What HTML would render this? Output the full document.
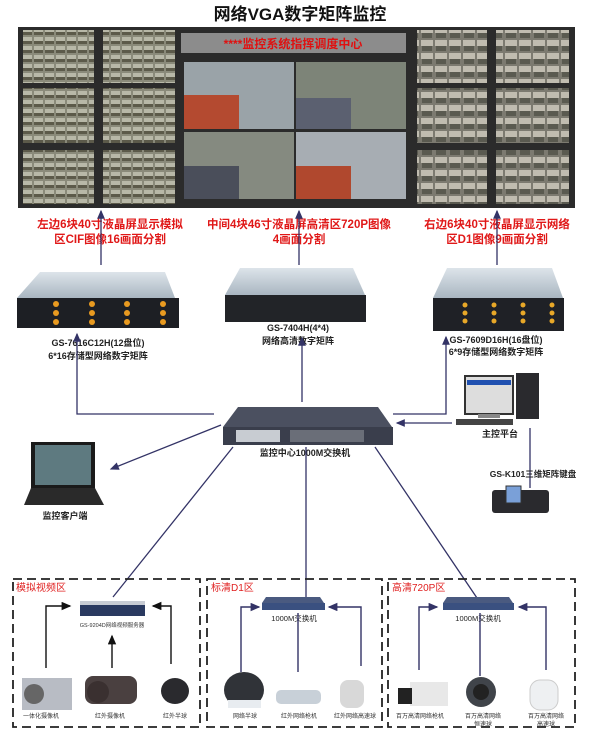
<!DOCTYPE html>
<html><head><meta charset="utf-8"><style>
html,body{margin:0;padding:0;background:#fff;}
svg{display:block;}
text{font-family:"Liberation Sans","Noto Sans CJK SC",sans-serif;}
</style></head><body>
<svg width="600" height="730" viewBox="0 0 600 730" xmlns="http://www.w3.org/2000/svg">
<defs>
<marker id="a" markerWidth="8" markerHeight="8" refX="6" refY="3" orient="auto"><path d="M0,0 L7,3 L0,6 z" fill="#333366"/></marker>
<marker id="k" markerWidth="8" markerHeight="8" refX="6" refY="3" orient="auto"><path d="M0,0 L7,3 L0,6 z" fill="#111"/></marker>
<pattern id="t16" width="11" height="9" patternUnits="userSpaceOnUse"><rect width="11" height="9" fill="#8a8a7a"/><rect x="1" y="1" width="9" height="4" fill="#b8b8a8"/><rect x="1" y="5" width="9" height="3" fill="#5c5a4a"/></pattern>
<pattern id="t9" width="14" height="13" patternUnits="userSpaceOnUse"><rect width="14" height="13" fill="#7c7a70"/><rect x="1" y="1" width="12" height="6" fill="#c0bcb0"/><rect x="2" y="7" width="10" height="5" fill="#5a5a50"/></pattern>
<linearGradient id="srv" x1="0" y1="0" x2="0" y2="1"><stop offset="0" stop-color="#dde4ea"/><stop offset="1" stop-color="#a9b6c1"/></linearGradient>
</defs>

<text x="300" y="20" font-size="17" font-weight="bold" text-anchor="middle" fill="#111">网络VGA数字矩阵监控</text>

<!-- video wall -->
<rect x="18" y="27" width="557" height="181" fill="#2b2b2b"/>
<g fill="url(#t16)">
<rect x="23" y="30" width="71" height="53"/><rect x="103" y="30" width="72" height="53"/>
<rect x="23" y="88" width="71" height="55"/><rect x="103" y="88" width="72" height="55"/>
<rect x="23" y="150" width="71" height="54"/><rect x="103" y="150" width="72" height="54"/>
</g>
<rect x="181" y="33" width="225" height="20" fill="#8c8c8c"/>
<text x="293" y="48" font-size="12" font-weight="bold" text-anchor="middle" fill="#e01010">****监控系统指挥调度中心</text>
<rect x="184" y="62" width="110" height="67" fill="#9aa3a8"/>
<rect x="184" y="95" width="55" height="34" fill="#b44a30"/>
<rect x="296" y="62" width="110" height="67" fill="#7d8478"/>
<rect x="296" y="98" width="55" height="31" fill="#5b6070"/>
<rect x="184" y="132" width="110" height="67" fill="#858a80"/>
<rect x="184" y="166" width="55" height="33" fill="#4a4e5a"/>
<rect x="296" y="132" width="110" height="67" fill="#a7adb3"/>
<rect x="296" y="166" width="55" height="33" fill="#b0482e"/>
<g fill="url(#t9)">
<rect x="417" y="30" width="70" height="53"/><rect x="496" y="30" width="73" height="53"/>
<rect x="417" y="88" width="70" height="55"/><rect x="496" y="88" width="73" height="55"/>
<rect x="417" y="150" width="70" height="54"/><rect x="496" y="150" width="73" height="54"/>
</g>

<!-- wall labels -->
<g font-size="11.5" font-weight="bold" fill="#e01818" text-anchor="middle">
<text x="110" y="228">左边6块40寸液晶屏显示模拟</text>
<text x="110" y="243">区CIF图像16画面分割</text>
<text x="299" y="228">中间4块46寸液晶屏高清区720P图像</text>
<text x="299" y="243">4画面分割</text>
<text x="497" y="228">右边6块40寸液晶屏显示网络</text>
<text x="497" y="243">区D1图像9画面分割</text>
</g>
<g stroke="#333366" stroke-width="1.3" fill="none">
<line x1="101" y1="265" x2="101" y2="211" marker-end="url(#a)"/>
<line x1="299" y1="265" x2="299" y2="211" marker-end="url(#a)"/>
<line x1="497" y1="265" x2="497" y2="211" marker-end="url(#a)"/>
</g>

<!-- servers -->
<polygon points="40,272 165,272 175,298 17,298" fill="url(#srv)"/>
<rect x="17" y="298" width="162" height="30" fill="#1d1f24"/>
<g fill="#e89a20"><circle cx="56" cy="304" r="3"/><circle cx="92" cy="304" r="3"/><circle cx="127" cy="304" r="3"/><circle cx="163" cy="304" r="3"/>
<circle cx="56" cy="313" r="3"/><circle cx="92" cy="313" r="3"/><circle cx="127" cy="313" r="3"/><circle cx="163" cy="313" r="3"/>
<circle cx="56" cy="322" r="3"/><circle cx="92" cy="322" r="3"/><circle cx="127" cy="322" r="3"/><circle cx="163" cy="322" r="3"/></g>
<polygon points="240,268 353,268 365,295 225,295" fill="url(#srv)"/>
<rect x="225" y="295" width="141" height="27" fill="#222428"/>
<polygon points="447,268 552,268 563,298 433,298" fill="url(#srv)"/>
<rect x="433" y="298" width="131" height="33" fill="#1f2126"/>
<g fill="#e8a828"><circle cx="465" cy="305" r="2.5"/><circle cx="494" cy="305" r="2.5"/><circle cx="523" cy="305" r="2.5"/><circle cx="552" cy="305" r="2.5"/>
<circle cx="465" cy="313" r="2.5"/><circle cx="494" cy="313" r="2.5"/><circle cx="523" cy="313" r="2.5"/><circle cx="552" cy="313" r="2.5"/>
<circle cx="465" cy="321" r="2.5"/><circle cx="494" cy="321" r="2.5"/><circle cx="523" cy="321" r="2.5"/><circle cx="552" cy="321" r="2.5"/></g>
<g font-size="9" font-weight="bold" fill="#222" text-anchor="middle">
<text x="98" y="346">GS-7616C12H(12盘位)</text>
<text x="98" y="359">6*16存储型网络数字矩阵</text>
<text x="298" y="331">GS-7404H(4*4)</text>
<text x="298" y="344">网络高清数字矩阵</text>
<text x="496" y="343">GS-7609D16H(16盘位)</text>
<text x="496" y="355">6*9存储型网络数字矩阵</text>
</g>

<!-- switch -->
<polygon points="238,407 378,407 392,427 223,427" fill="#4b5060"/>
<rect x="223" y="427" width="170" height="18" fill="#3a3e4c"/>
<rect x="236" y="430" width="44" height="12" fill="#c8ccd2"/>
<rect x="290" y="430" width="74" height="12" fill="#6a6e78"/>
<text x="305" y="456" font-size="9" font-weight="bold" fill="#222" text-anchor="middle">监控中心1000M交换机</text>

<g stroke="#333366" stroke-width="1.3" fill="none">
<polyline points="214,414 77,414 77,334" marker-end="url(#a)"/>
<line x1="302" y1="402" x2="302" y2="338" marker-end="url(#a)"/>
<polyline points="393,414 446,414 446,337" marker-end="url(#a)"/>
<line x1="452" y1="423" x2="397" y2="423" marker-end="url(#a)"/>
<line x1="221" y1="425" x2="111" y2="469" marker-end="url(#a)"/>
<line x1="530" y1="428" x2="530" y2="488"/>
<line x1="233" y1="447" x2="113" y2="597"/>
<line x1="306" y1="447" x2="306" y2="600"/>
<line x1="375" y1="447" x2="477" y2="598"/>
</g>

<!-- main control PC -->
<rect x="465" y="376" width="48" height="38" fill="#ddd" stroke="#333" stroke-width="2"/>
<rect x="467" y="380" width="44" height="5" fill="#2050b0"/>
<rect x="478" y="414" width="22" height="4" fill="#888"/>
<rect x="516" y="373" width="23" height="46" fill="#2a2a2e"/>
<rect x="456" y="419" width="57" height="6" fill="#444"/>
<text x="500" y="437" font-size="9" font-weight="bold" fill="#222" text-anchor="middle">主控平台</text>
<text x="533" y="477" font-size="8.5" font-weight="bold" fill="#222" text-anchor="middle">GS-K101三维矩阵键盘</text>
<rect x="492" y="490" width="57" height="23" rx="3" fill="#2a2a2e"/>
<rect x="506" y="486" width="15" height="17" fill="#7aa0d8" stroke="#333"/>

<!-- laptop -->
<rect x="31" y="442" width="64" height="46" fill="#1a1a1a"/>
<rect x="35" y="445" width="56" height="40" fill="#5e7a80"/>
<polygon points="31,488 95,488 104,505 24,505" fill="#2a2a2a"/>
<text x="65" y="519" font-size="9" font-weight="bold" fill="#222" text-anchor="middle">监控客户端</text>

<!-- dashed zones -->
<g fill="none" stroke="#222" stroke-width="1.8" stroke-dasharray="9,5">
<rect x="13" y="579" width="187" height="148"/>
<rect x="207" y="579" width="175" height="148"/>
<rect x="388" y="579" width="187" height="148"/>
</g>
<g font-size="10" fill="#e02020">
<text x="16" y="591">模拟视频区</text>
<text x="211" y="591">标清D1区</text>
<text x="392" y="591">高清720P区</text>
</g>

<!-- zone 1 -->
<rect x="80" y="601" width="65" height="15" fill="#2a3a60"/>
<rect x="80" y="601" width="65" height="4" fill="#c8ccd4"/>
<text x="112" y="627" font-size="5.5" fill="#333" text-anchor="middle">GS-9204D网络视频服务器</text>
<g stroke="#111" stroke-width="1.4" fill="none">
<polyline points="46,668 46,606 70,606" marker-end="url(#k)"/>
<line x1="112" y1="668" x2="112" y2="636" marker-end="url(#k)"/>
<polyline points="171,664 171,606 153,606" marker-end="url(#k)"/>
</g>
<rect x="22" y="678" width="50" height="32" fill="#b8bcc4"/>
<circle cx="34" cy="694" r="10" fill="#666"/>
<rect x="85" y="676" width="52" height="28" rx="8" fill="#4a4040"/>
<circle cx="98" cy="692" r="11" fill="#3a3030"/>
<ellipse cx="175" cy="691" rx="14" ry="13" fill="#2a2a2e"/>
<g font-size="6" fill="#333" text-anchor="middle">
<text x="41" y="718">一体化摄像机</text><text x="110" y="718">红外摄像机</text><text x="175" y="718">红外半球</text>
</g>

<!-- zone 2 -->
<polygon points="266,597 320,597 324,603 262,603" fill="#4a5a80"/>
<rect x="262" y="603" width="63" height="7" fill="#3a5080"/>
<text x="294" y="621" font-size="7.5" fill="#222" text-anchor="middle">1000M交换机</text>
<g stroke="#333366" stroke-width="1.4" fill="none">
<polyline points="241,672 241,607 259,607" marker-end="url(#a)"/>
<line x1="298" y1="672" x2="298" y2="613"/>
<polyline points="361,666 361,607 329,607" marker-end="url(#a)"/>
</g>
<ellipse cx="244" cy="690" rx="20" ry="18" fill="#303338"/>
<rect x="228" y="700" width="33" height="8" fill="#e8ecf0"/>
<rect x="276" y="690" width="45" height="14" rx="5" fill="#c8d0d8"/>
<rect x="340" y="680" width="24" height="28" rx="8" fill="#d8d8d8"/>
<g font-size="6" fill="#333" text-anchor="middle">
<text x="245" y="718">网络半球</text><text x="299" y="718">红外网络枪机</text><text x="355" y="718">红外网络高速球</text>
</g>

<!-- zone 3 -->
<polygon points="447,597 509,597 513,603 443,603" fill="#4a5a80"/>
<rect x="443" y="603" width="71" height="7" fill="#3a5080"/>
<text x="478" y="621" font-size="7.5" fill="#222" text-anchor="middle">1000M交换机</text>
<g stroke="#333366" stroke-width="1.4" fill="none">
<polyline points="419,670 419,607 437,607" marker-end="url(#a)"/>
<line x1="480" y1="676" x2="480" y2="613"/>
<polyline points="546,670 546,607 519,607" marker-end="url(#a)"/>
</g>
<rect x="410" y="682" width="38" height="24" fill="#e8e8e8"/>
<rect x="398" y="688" width="14" height="16" fill="#222"/>
<circle cx="481" cy="692" r="15" fill="#40444a"/>
<circle cx="481" cy="692" r="8" fill="#222"/>
<rect x="530" y="680" width="28" height="30" rx="10" fill="#eef0f2" stroke="#ccc"/>
<g font-size="6" fill="#333" text-anchor="middle">
<text x="420" y="718">百万高清网络枪机</text><text x="483" y="718">百万高清网络</text><text x="483" y="726">恒速球</text>
<text x="546" y="718">百万高清网络</text><text x="546" y="726">高速球</text>
</g>
</svg>
</body></html>
